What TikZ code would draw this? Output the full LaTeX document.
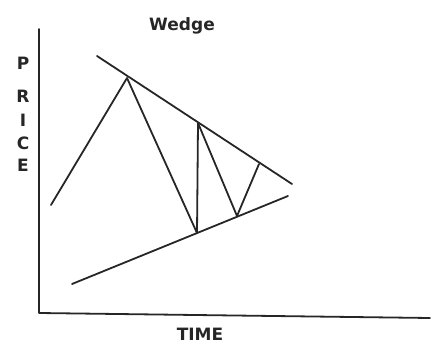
\documentclass[tikz,border=0pt]{standalone}
\usepackage{fontspec}
\setmainfont{DejaVu Sans}
\begin{document}
\begin{tikzpicture}[x=1pt,y=-1pt,
  ln/.style={line width=1.8pt,black!85,line cap=round,line join=round},
  lbl/.style={font=\fontsize{17}{17}\selectfont\bfseries,inner sep=0pt,text=black!85}]
\useasboundingbox (0,0) rectangle (435,352);
% axes
\coordinate (ytop) at (39,29);
\coordinate (org) at (39,313);
\coordinate (xend) at (430,318);
\draw[ln] (ytop) -- (org) -- (xend);
% wedge lines
\coordinate (u1) at (97,56);
\coordinate (u2) at (292,184);
\coordinate (l1) at (72,284);
\coordinate (l2) at (288,196);
\draw[ln] (u1) -- (u2);
\draw[ln] (l1) -- (l2);
% zigzag
\coordinate (z0) at (51,205);
\coordinate (z1) at (127,78);
\coordinate (z2) at (197,233);
\coordinate (z3) at (198,123);
\coordinate (z4) at (237,216);
\coordinate (z5) at (259,164);
\draw[ln] (z0) -- (z1) -- (z2) -- (z3) -- (z4) -- (z5);
% labels
\node[lbl,font=\fontsize{17}{17}\selectfont\bfseries] (title) at (182,26) {Wedge};
\node[lbl] (p) at (23,63) {P};
\node[lbl] (r) at (23,96) {R};
\node[lbl] (i) at (23,120) {I};
\node[lbl] (c) at (23,143) {C};
\node[lbl] (e) at (23,165) {E};
\node[lbl] (time) at (200,334) {TIME};
\end{tikzpicture}
\end{document}
